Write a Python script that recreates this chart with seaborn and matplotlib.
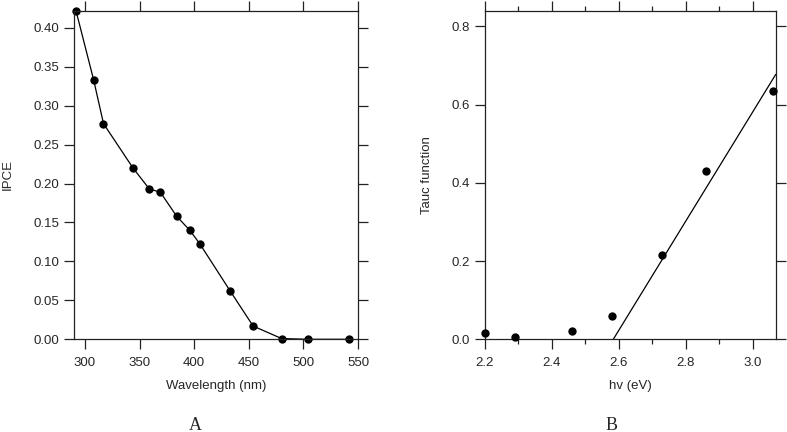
import matplotlib
matplotlib.use("Agg")
import matplotlib.pyplot as plt
import seaborn as sns
import pandas as pd
from matplotlib.ticker import MultipleLocator

# ---- data ----
wavelength = [292, 308, 317, 344, 359, 369, 384, 396, 405, 433, 454, 480, 504, 542]
ipce = [0.421, 0.333, 0.277, 0.220, 0.193, 0.189, 0.158, 0.140, 0.123, 0.062, 0.017, 0.001, 0.0, 0.0]

hv = [2.20, 2.29, 2.46, 2.58, 2.73, 2.86, 3.06]
tauc = [0.016, 0.007, 0.020, 0.059, 0.216, 0.429, 0.635]

fit_hv = [2.584, 3.069]
fit_tauc = [0.0, 0.677]

panel_labels = ["A", "B"]

sns.set_style("ticks")
plt.rcParams["font.family"] = ["Liberation Sans", "DejaVu Sans"]
plt.rcParams["font.size"] = 9.5

fig = plt.figure(figsize=(7.87, 4.32), dpi=100)
axA = fig.add_axes([74/787, 1-339.3/432, (358-74)/787, (339.3-10.7)/432])
axB = fig.add_axes([484.7/787, 1-339.3/432, (775.7-484.7)/787, (339.3-10.7)/432])

dfA = pd.DataFrame({"Wavelength (nm)": wavelength, "IPCE": ipce})
sns.lineplot(data=dfA, x="Wavelength (nm)", y="IPCE", ax=axA, color="black",
             lw=0.9, marker="o", markersize=6, markeredgewidth=0, clip_on=False)

dfB = pd.DataFrame({"hv (eV)": hv, "Tauc function": tauc})
sns.scatterplot(data=dfB, x="hv (eV)", y="Tauc function", ax=axB, color="black",
                s=36, linewidth=0, clip_on=False, zorder=3)
dfF = pd.DataFrame({"x": fit_hv, "y": fit_tauc})
sns.lineplot(data=dfF, x="x", y="y", ax=axB, color="black", lw=0.9)

axA.set_xlim(290, 550)
axA.set_ylim(0, 0.422)
axA.xaxis.set_major_locator(MultipleLocator(50))
axA.yaxis.set_major_locator(MultipleLocator(0.05))
axA.yaxis.set_major_formatter(matplotlib.ticker.FormatStrFormatter("%.2f"))
axA.set_xlabel("Wavelength (nm)")
axA.set_ylabel("IPCE")

axB.set_xlim(2.2, 3.069)
axB.set_ylim(0, 0.84)
axB.xaxis.set_major_locator(MultipleLocator(0.2))
axB.xaxis.set_minor_locator(MultipleLocator(0.1))
axB.yaxis.set_major_locator(MultipleLocator(0.2))
axB.yaxis.set_major_formatter(matplotlib.ticker.FormatStrFormatter("%.1f"))
axB.set_xlabel("hv (eV)")
axB.set_ylabel("Tauc function")

for ax in (axA, axB):
    for s in ax.spines.values():
        s.set_visible(True)
        s.set_linewidth(0.9)
        s.set_color("#222222")
    ax.tick_params(which="major", direction="out", length=7, width=0.9,
                   color="#222222", labelsize=9.5,
                   top=True, right=True, labeltop=False, labelright=False)
    ax.tick_params(axis="x", which="major", pad=6)
    ax.tick_params(axis="y", which="major", pad=3.5)
    ax.tick_params(which="minor", direction="out", length=3.5, width=0.9,
                   color="#222222", top=True, bottom=True)
    ax.xaxis.label.set_size(9.5)
    ax.yaxis.label.set_size(9.5)

axA.yaxis.set_label_coords(-0.211, 0.5)
axB.yaxis.set_label_coords(-0.178, 0.5)
axA.xaxis.set_label_coords(0.5, -0.125)
axB.xaxis.set_label_coords(0.5, -0.125)

fig.text(195/787, 1-425/432, panel_labels[0], family="Liberation Serif",
         fontsize=13, ha="center", va="center")
fig.text(612/787, 1-425/432, panel_labels[1], family="Liberation Serif",
         fontsize=13, ha="center", va="center")

fig.savefig("out.png", dpi=100)
